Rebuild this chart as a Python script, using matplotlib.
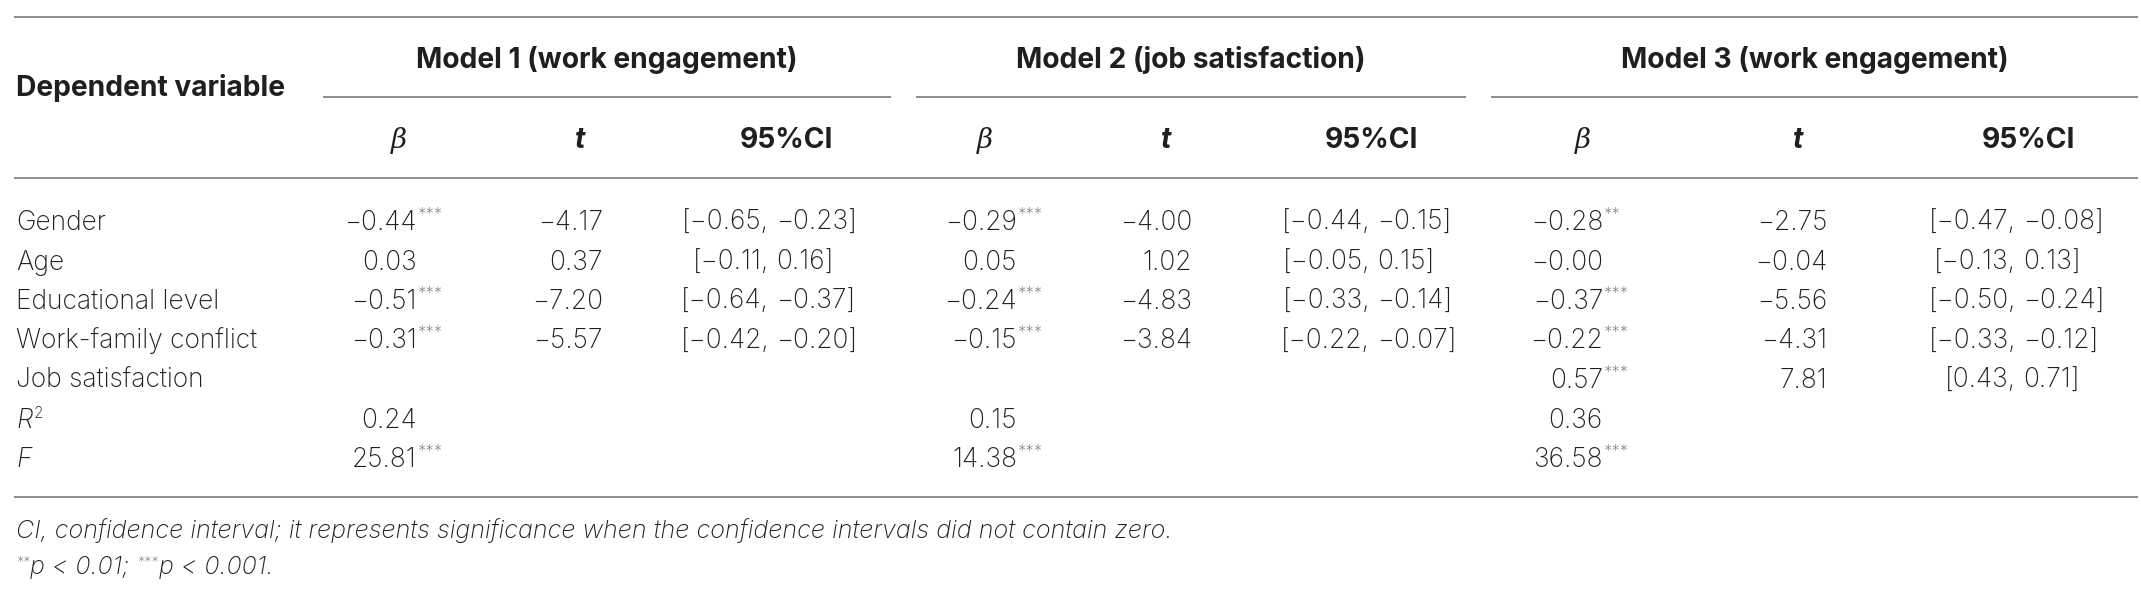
import matplotlib
matplotlib.use("Agg")
import matplotlib.pyplot as plt
from matplotlib import font_manager as fm

# ---- table data -------------------------------------------------------------
row_labels = ["Gender", "Age", "Educational level", "Work-family conflict",
              "Job satisfaction", "R", "F"]
model_titles = ["Model 1 (work engagement)", "Model 2 (job satisfaction)",
                "Model 3 (work engagement)"]

m1_beta  = ["\u22120.44", "0.03", "\u22120.51", "\u22120.31", "", "0.24", "25.81"]
m1_stars = ["***", "", "***", "***", "", "", "***"]
m1_t     = ["\u22124.17", "0.37", "\u22127.20", "\u22125.57", "", "", ""]
m1_ci    = ["[\u22120.65, \u22120.23]", "[\u22120.11, 0.16]", "[\u22120.64, \u22120.37]",
            "[\u22120.42, \u22120.20]", "", "", ""]

m2_beta  = ["\u22120.29", "0.05", "\u22120.24", "\u22120.15", "", "0.15", "14.38"]
m2_stars = ["***", "", "***", "***", "", "", "***"]
m2_t     = ["\u22124.00", "1.02", "\u22124.83", "\u22123.84", "", "", ""]
m2_ci    = ["[\u22120.44, \u22120.15]", "[\u22120.05, 0.15]", "[\u22120.33, \u22120.14]",
            "[\u22120.22, \u22120.07]", "", "", ""]

m3_beta  = ["\u22120.28", "\u22120.00", "\u22120.37", "\u22120.22", "0.57", "0.36", "36.58"]
m3_stars = ["**", "", "***", "***", "***", "", "***"]
m3_t     = ["\u22122.75", "\u22120.04", "\u22125.56", "\u22124.31", "7.81", "", ""]
m3_ci    = ["[\u22120.47, \u22120.08]", "[\u22120.13, 0.13]", "[\u22120.50, \u22120.24]",
            "[\u22120.33, \u22120.12]", "[0.43, 0.71]", "", ""]

footnote = ("CI, confidence interval; it represents significance when the "
            "confidence intervals did not contain zero.")
footnote2 = [("**", True), ("p < 0.01; ", False), ("***", True), ("p < 0.001.", False)]

models = [
    (m1_beta, m1_stars, m1_t, m1_ci),
    (m2_beta, m2_stars, m2_t, m2_ci),
    (m3_beta, m3_stars, m3_t, m3_ci),
]

# ---- layout (pixels of the 2141x599 canvas) ---------------------------------
W, H = 2141, 599
layout = [
    dict(beta=417, t=603, ci=769, hb=399, ht=580, hci=786, hm=607, span=(323, 891)),
    dict(beta=1017, t=1192, ci=1370, hb=985, ht=1166, hci=1371, hm=1191, span=(916, 1466)),
    dict(beta=1603, t=1827, ci=2016, hb=1583, ht=1798, hci=2028, hm=1815, span=(1491, 2138)),
]
X0, X1 = 14, 2138
ROW0, ROWSTEP = 230, 39.5
TXT = "#1f1f1f"
STAR = "#7a7a7a"
RULE = "#8c8c8c"


def pick_light():
    for fam in ["Inter", "Lato", "Roboto", "Open Sans"]:
        try:
            p = fm.findfont(fm.FontProperties(family=fam, weight="light"),
                            fallback_to_default=False)
            if "light" in p.lower():
                return fam, "light"
        except Exception:
            pass
    return "Liberation Sans", "normal"


FAM, LW = pick_light()
BOLD = FAM if FAM == "Inter" else "Liberation Sans"

fig = plt.figure(figsize=(W / 100, H / 100), dpi=100)
ax = fig.add_axes([0, 0, 1, 1])
ax.set_xlim(0, W)
ax.set_ylim(H, 0)
ax.axis("off")
renderer = fig.canvas.get_renderer()

FS = 19
HFS = 20.3
SFS = 12
NFS = 18.1


def val(x, y, s, ha="right", **kw):
    return ax.text(x, y, s, ha=ha, va="baseline", fontsize=FS, family=FAM,
                   weight=LW, color=TXT, **kw)


def right_px(t):
    bb = t.get_window_extent(renderer)
    return ax.transData.inverted().transform((bb.x1, bb.y0))[0]


def stars(x, y, s):
    if s:
        ax.text(x + 1, y - 11, s, ha="left", va="baseline", fontsize=SFS,
                family=FAM, weight=LW, color=STAR)


# rules
ax.hlines([16.7, 178, 497], X0, X1, color=RULE, lw=1.4)
for lay in layout:
    ax.hlines(97, lay["span"][0], lay["span"][1], color=RULE, lw=1.4)

# header
ax.text(16, 96, "Dependent variable", ha="left", va="baseline", fontsize=HFS,
        family=BOLD, weight="bold", color=TXT)
for title, lay in zip(model_titles, layout):
    ax.text(lay["hm"], 67.5, title, ha="center", va="baseline", fontsize=HFS,
            family=BOLD, weight="bold", color=TXT)
    ax.text(lay["hb"], 148, "\u03b2", ha="center", va="baseline", fontsize=20,
            family="DejaVu Serif", style="italic", color=TXT)
    ax.text(lay["ht"], 148, "t", ha="center", va="baseline", fontsize=HFS,
            family=BOLD, weight="bold", style="italic", color=TXT)
    ax.text(lay["hci"], 148, "95%CI", ha="center", va="baseline", fontsize=HFS,
            family=BOLD, weight="bold", color=TXT)

# body
for i, lab in enumerate(row_labels):
    y = ROW0 + ROWSTEP * i
    if lab in ("R", "F"):
        t = val(16, y, lab, ha="left", style="italic")
        if lab == "R":
            ax.text(right_px(t) + 1, y - 9, "2", ha="left", va="baseline",
                    fontsize=11, family=FAM, weight=LW, color=TXT)
    else:
        val(16, y, lab, ha="left")

for (beta, st, tv, ci), lay in zip(models, layout):
    for i in range(len(row_labels)):
        y = ROW0 + ROWSTEP * i
        if beta[i]:
            val(lay["beta"], y, beta[i])
            stars(lay["beta"], y, st[i])
        if tv[i]:
            val(lay["t"], y, tv[i])
        if ci[i]:
            left, right = ci[i].split(", ")
            val(lay["ci"], y, left + ",", ha="right")
            val(lay["ci"] + 7, y, right, ha="left")

# footnotes
ax.text(16, 538, footnote, ha="left", va="baseline", fontsize=NFS, family=FAM,
        weight=LW, style="italic", color=TXT)
x = 16
for s, sup in footnote2:
    if sup:
        t = ax.text(x, 566, s, ha="left", va="baseline", fontsize=10.5,
                    family=FAM, weight=LW, color=STAR)
    else:
        t = ax.text(x, 574, s, ha="left", va="baseline", fontsize=NFS,
                    family=FAM, weight=LW, style="italic", color=TXT)
    x = right_px(t)

fig.savefig("out.png", dpi=100, facecolor="white")
